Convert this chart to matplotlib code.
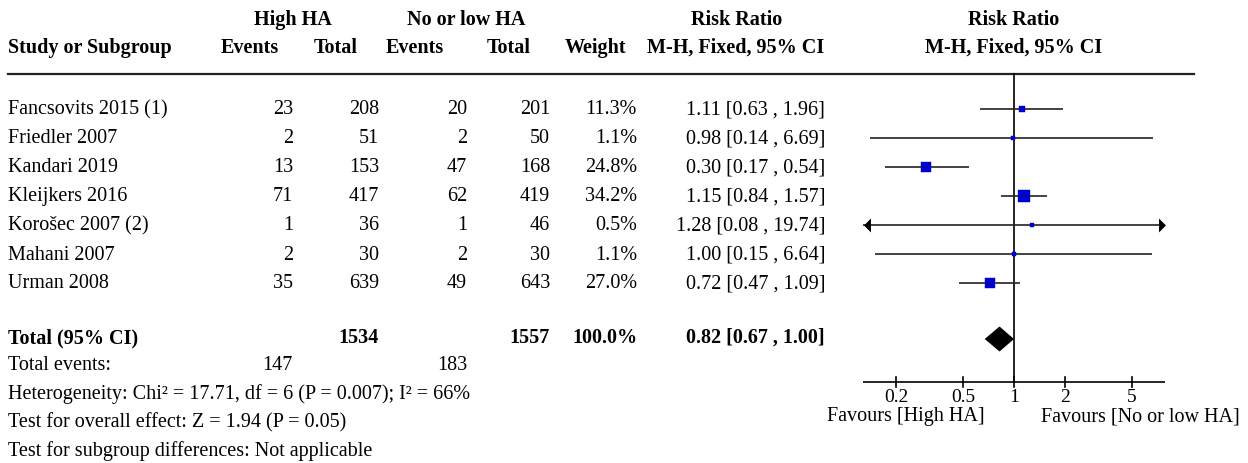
import numpy as np
import matplotlib
matplotlib.use("Agg")
import matplotlib.pyplot as plt
from matplotlib.transforms import offset_copy

plt.rcParams['font.family'] = ['Liberation Serif', 'DejaVu Serif']

studies = ["Fancsovits 2015 (1)", "Friedler 2007", "Kandari 2019", "Kleijkers 2016",
           "Korošec 2007 (2)", "Mahani 2007", "Urman 2008"]
high_events = [23, 2, 13, 71, 1, 2, 35]
high_total = [208, 51, 153, 417, 36, 30, 639]
low_events = [20, 2, 47, 62, 1, 2, 49]
low_total = [201, 50, 168, 419, 46, 30, 643]
weight = [11.3, 1.1, 24.8, 34.2, 0.5, 1.1, 27.0]
rr = [1.11, 0.98, 0.30, 1.15, 1.28, 1.00, 0.72]
rr_lo = [0.63, 0.14, 0.17, 0.84, 0.08, 0.15, 0.47]
rr_hi = [1.96, 6.69, 0.54, 1.57, 19.74, 6.64, 1.09]

total_rr, total_lo, total_hi = 0.82, 0.67, 1.00
ticks = [0.2, 0.5, 1, 2, 5]
tick_labels = ["0.2", "0.5", "1", "2", "5"]
footer = ["Heterogeneity: Chi² = 17.71, df = 6 (P = 0.007); I² = 66%",
          "Test for overall effect: Z = 1.94 (P = 0.05)",
          "Test for subgroup differences: Not applicable"]

W, H = 1248, 464
fig = plt.figure(figsize=(W / 100, H / 100), dpi=100)
ax = fig.add_axes([0, 0, 1, 1])
ax.set_xlim(0, W)
ax.set_ylim(H, 0)
ax.axis('off')

fs = 14.5
blue = '#0000cc'

# header
hdr = dict(fontsize=fs, fontweight='bold', va='center', ha='center')
ax.text(293, 20, "High HA", **hdr)
ax.text(466, 20, "No or low HA", **hdr)
ax.text(737, 20, "Risk Ratio", **hdr)
ax.text(1014, 20, "Risk Ratio", **hdr)
ax.text(8, 48, "Study or Subgroup", fontsize=fs, fontweight='bold', va='center', ha='left')
for x, s in [(250, "Events"), (336, "Total"), (415, "Events"), (509, "Total"),
             (596, "Weight"), (736, "M-H, Fixed, 95% CI"), (1014, "M-H, Fixed, 95% CI")]:
    ax.text(x, 48, s, **hdr)
ax.plot([8, 1194], [75, 75], color='#222222', lw=1.6)

# rows
row_y = 110 + 29 * np.arange(len(studies))
for i, y in enumerate(row_y):
    ax.text(8, y, studies[i], fontsize=fs, va='center', ha='left')
    ax.text(293, y, str(high_events[i]), fontsize=fs, va='center', ha='right')
    ax.text(379, y, str(high_total[i]), fontsize=fs, va='center', ha='right')
    ax.text(467, y, str(low_events[i]), fontsize=fs, va='center', ha='right')
    ax.text(550, y, str(low_total[i]), fontsize=fs, va='center', ha='right')
    ax.text(637, y, f"{weight[i]:.1f}%", fontsize=fs, va='center', ha='right')
    ax.text(825, y, f"{rr[i]:.2f} [{rr_lo[i]:.2f} , {rr_hi[i]:.2f}]", fontsize=fs, va='center', ha='right')

ty = 338
bold = dict(fontsize=fs, fontweight='bold', va='center')
ax.text(8, ty, "Total (95% CI)", ha='left', **bold)
ax.text(379, ty, str(sum(high_total)), ha='right', **bold)
ax.text(550, ty, str(sum(low_total)), ha='right', **bold)
ax.text(637, ty, f"{sum(weight):.1f}%", ha='right', **bold)
ax.text(825, ty, f"{total_rr:.2f} [{total_lo:.2f} , {total_hi:.2f}]", ha='right', **bold)

ax.text(8, 366, "Total events:", fontsize=fs, va='center', ha='left')
ax.text(293, 366, str(sum(high_events)), fontsize=fs, va='center', ha='right')
ax.text(467, 366, str(sum(low_events)), fontsize=fs, va='center', ha='right')
for k, s in enumerate(footer):
    ax.text(8, 394 + 28.5 * k, s, fontsize=fs, va='center', ha='left')

# forest panel
x0, x1 = 863, 1165
fx = fig.add_axes([x0 / W, 0, (x1 - x0) / W, 1])
fx.set_xscale('log')
lim = 7.9
fx.set_xlim(1 / lim, lim)
fx.set_ylim(H, 0)
fx.axis('off')

axis_y = 383
fx.plot([1, 1], [75, axis_y], color='black', lw=1.2)
fx.plot([1 / lim, lim], [axis_y, axis_y], color='black', lw=1.2)
for t, lab in zip(ticks, tick_labels):
    fx.plot([t, t], [axis_y - 5, axis_y + 5], color='black', lw=1.2)
    fx.text(t, 398, lab, fontsize=14, ha='center', va='center')

left_head = [(-0.5, 0), (0.5, 1), (0.5, -1), (-0.5, 0)]
right_head = [(0.5, 0), (-0.5, 1), (-0.5, -1), (0.5, 0)]
for i, y in enumerate(row_y):
    lo = max(rr_lo[i], 1 / lim)
    hi = min(rr_hi[i], lim)
    fx.plot([lo, hi], [y, y], color='#222222', lw=1.2, solid_capstyle='butt')
    if rr_lo[i] < 1 / lim:
        tr = offset_copy(fx.transData, fig=fig, x=3.5, y=0, units='dots')
        fx.plot([1 / lim], [y], marker=left_head, ms=10, color='black', mew=0,
                transform=tr, clip_on=False)
    if rr_hi[i] > lim:
        tr = offset_copy(fx.transData, fig=fig, x=-3.5, y=0, units='dots')
        fx.plot([lim], [y], marker=right_head, ms=10, color='black', mew=0,
                transform=tr, clip_on=False)
    side = max(4.0, 2.05 * np.sqrt(weight[i]))
    fx.plot([rr[i]], [y], marker='s', ms=side * 0.72, color=blue, mec=blue, mew=0.3)

fx.fill([total_lo, total_rr, total_hi, total_rr], [340 - 0.0, 340 - 12.5, 340, 340 + 12.5],
        color='black', lw=0)

ax.text(906, 417, "Favours [High HA]", fontsize=fs, ha='center', va='center')
ax.text(1140, 417, "Favours [No or low HA]", fontsize=fs, ha='center', va='center')

fig.savefig("out.png", dpi=100)
